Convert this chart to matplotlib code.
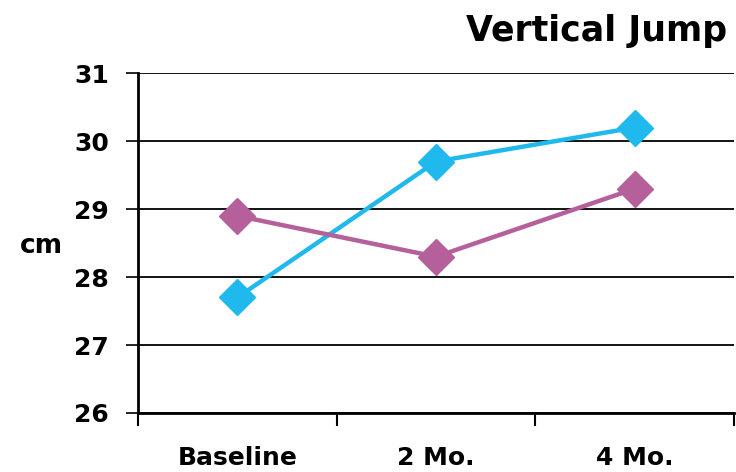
import matplotlib.pyplot as plt
import numpy as np

categories = ['Baseline', '2 Mo.', '4 Mo.']
cyan_vals = [27.7, 29.7, 30.2]
magenta_vals = [28.9, 28.3, 29.3]
y_ticks = [26, 27, 28, 29, 30, 31]

plt.rcParams['font.family'] = ['DejaVu Sans']
plt.rcParams['font.weight'] = 'bold'

fig = plt.figure(figsize=(7.36, 4.72), dpi=100)
ax = fig.add_axes([0.1875, 0.125, 0.81, 0.72])

x = np.arange(len(categories))
ax.plot(x, cyan_vals, color='#1FB9EE', lw=3.2, marker='D', ms=18, zorder=3)
ax.plot(x, magenta_vals, color='#B5609A', lw=3.2, marker='D', ms=18, zorder=3)

ax.set_xlim(-0.5, 2.5)
ax.set_ylim(26, 31)
ax.set_yticks(y_ticks)
ax.set_yticklabels([str(v) for v in y_ticks], fontsize=18, fontweight='bold')
ax.set_xticks(np.arange(-0.5, 3, 1))
ax.set_xticklabels([])
ax.set_xticks(x, minor=True)
ax.set_xticklabels(categories, minor=True, fontsize=18, fontweight='bold')
ax.tick_params(axis='x', which='minor', length=0, pad=24)
ax.tick_params(axis='x', which='major', length=9, width=1.5, direction='out')
ax.tick_params(axis='y', length=9, width=1.2, direction='out', pad=12)

ax.grid(axis='y', color='black', lw=1.3)
ax.set_axisbelow(True)
for s in ['top', 'right']:
    ax.spines[s].set_visible(False)
for s in ['left', 'bottom']:
    ax.spines[s].set_linewidth(2)

fig.text(41 / 736, 1 - 246 / 472, 'cm', ha='center', va='center', fontsize=19, fontweight='bold')
fig.text(0.988, 0.935, 'Vertical Jump', ha='right', va='center', fontsize=25, fontweight='bold')

fig.savefig('out.png', dpi=100)
